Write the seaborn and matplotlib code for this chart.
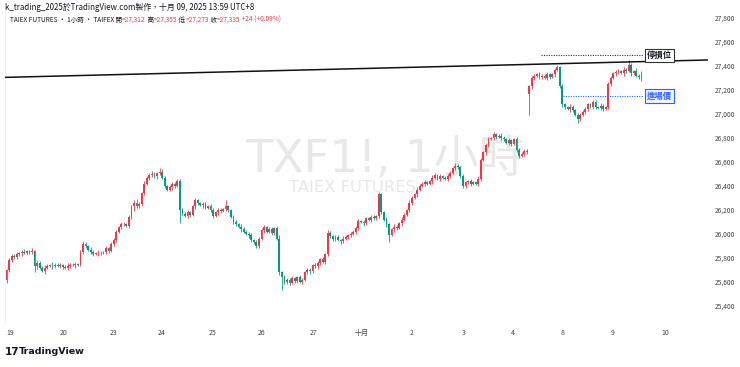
import matplotlib
matplotlib.use("Agg")
import matplotlib.pyplot as plt
import seaborn as sns

sns.set_theme(style="white")
plt.rcParams['font.family'] = ['Noto Sans CJK TC', 'DejaVu Sans']

# hourly closes, TXF1! from 9/19 to 10/9
closes = [
    25700, 25780, 25820, 25810, 25830, 25840, 25850, 25845, 25855, 25850, 25860,
    25730, 25760, 25720, 25690, 25720,
    25735, 25740, 25730, 25745, 25735, 25740, 25725, 25720, 25735, 25745, 25740, 25750, 25745,
    25850, 25920, 25900, 25870, 25850,
    25835, 25840, 25845, 25840, 25850, 25880,
    25860, 25920, 25950, 26020, 26060,
    26080, 26085, 26070, 26140, 26230,
    26260, 26230, 26250, 26340, 26420, 26470,
    26490, 26500, 26480, 26510, 26520,
    26470, 26400, 26370, 26390, 26420, 26400, 26440,
    26200, 26170, 26150, 26180, 26160,
    26230, 26280, 26260, 26240, 26250, 26220, 26230, 26200,
    26150, 26180, 26200, 26190, 26210, 26230, 26200,
    26140, 26100, 26080, 26060, 26040, 26020, 26000, 25990, 25950, 25930, 25900,
    25960, 26030, 26060, 26020, 26040, 26010, 26050, 25960,
    25680, 25640, 25600, 25620, 25590, 25630, 25610, 25640, 25600, 25620,
    25680, 25700, 25690, 25740, 25730, 25760, 25790, 25770, 25830, 26010,
    25980, 25960, 25975, 25950, 25940, 25960, 25975, 25990, 26000, 26020, 26050,
    26110, 26100, 26090, 26130, 26120, 26140, 26130, 26150,
    26330, 26180, 26120, 26080, 25990, 26040,
    26060, 26050, 26090, 26120, 26160, 26200, 26260, 26300,
    26330, 26370, 26400, 26420, 26430, 26420, 26440,
    26470, 26490, 26460, 26480, 26470, 26460, 26480,
    26510, 26550, 26570, 26560, 26480, 26400,
    26430, 26440, 26420, 26430, 26420, 26460,
    26620, 26680, 26740, 26790, 26800,
    26830, 26810, 26820, 26800, 26790, 26760, 26780, 26750, 26790,
    26700, 26650, 26670, 26690, 26680,
    27230, 27300, 27320, 27330, 27310, 27320, 27300, 27330, 27310, 27330,
    27370, 27390, 27230, 27080, 27060, 27040, 27060, 27030, 26990, 26960, 26990,
    27020, 27040, 27080, 27060, 27100, 27060, 27050, 27070, 27040, 27060,
    27250, 27300, 27340, 27350, 27360, 27340, 27370, 27360,
    27410, 27340, 27360, 27320, 27312, 27335,
]
first_open = 25620
gap_opens = {205: 27170}  # reopening after the holiday

upper_wick = [
    10, 20, 15, 10, 20, 10, 15, 25, 10, 15,
    20, 10, 20, 15, 10, 20, 15, 10, 25, 10,
    15, 20, 10, 15, 20, 10, 15, 20, 10, 15,
    20, 15, 10, 20, 15, 10, 20, 15, 10, 20,
    15, 10, 20, 15, 10, 20, 15, 10, 20, 15,
    20, 30, 15, 10, 20, 15, 20, 25, 15, 10,
    30, 20, 15, 10, 20, 15, 10, 20, 15, 20,
    15, 20, 10, 15, 20, 15, 10, 20, 15, 10,
    20, 15, 10, 20, 15, 10, 50, 15, 10, 20,
    15, 10, 20, 15, 10, 20, 15, 10, 20, 15,
    20, 15, 10, 20, 15, 10, 20, 30, 15, 20,
    15, 10, 20, 15, 10, 20, 15, 10, 20, 15,
    10, 20, 15, 10, 20, 15, 20, 15, 10, 20,
    15, 10, 20, 15, 10, 20, 15, 20, 15, 10,
    20, 15, 10, 20, 15, 10, 20, 15, 10, 20,
    15, 10, 20, 15, 10, 20, 15, 10, 20, 15,
    10, 20, 15, 10, 20, 15, 10, 20, 15, 10,
    20, 15, 10, 20, 15, 10, 20, 15, 10, 20,
    15, 10, 20, 15, 10, 20, 15, 10, 20, 15,
    10, 20, 15, 10, 20, 15, 10, 20, 15, 10,
    20, 15, 10, 20, 15, 10, 20, 15, 10, 20,
    15, 10, 20, 15, 10, 15, 15, 10, 20, 15,
    10, 20, 15, 10, 20, 15, 10, 20, 15, 10,
    20, 15, 10, 20, 15, 10, 20, 15, 10, 20,
    15, 10, 20, 15, 40, 15, 10, 20, 15, 20,
]
lower_wick = [
    30, 15, 10, 20, 15, 10, 20, 15, 10, 20,
    15, 50, 20, 15, 10, 20, 15, 10, 20, 15,
    10, 20, 15, 10, 20, 15, 10, 20, 15, 10,
    20, 15, 10, 20, 15, 10, 20, 15, 10, 20,
    15, 10, 20, 15, 10, 20, 15, 10, 20, 15,
    40, 15, 10, 20, 15, 10, 20, 15, 10, 20,
    15, 10, 20, 15, 10, 20, 15, 10, 110, 15,
    10, 20, 15, 10, 20, 15, 10, 20, 15, 10,
    20, 15, 10, 20, 15, 10, 20, 15, 10, 20,
    15, 10, 20, 15, 10, 20, 15, 10, 20, 15,
    10, 20, 15, 10, 20, 15, 10, 20, 110, 15,
    20, 15, 10, 20, 15, 10, 20, 15, 10, 20,
    15, 10, 20, 15, 10, 20, 15, 10, 20, 15,
    10, 20, 15, 10, 20, 15, 10, 20, 15, 10,
    20, 15, 10, 20, 15, 10, 20, 15, 10, 20,
    55, 10, 20, 15, 10, 20, 15, 10, 20, 15,
    10, 20, 15, 10, 20, 15, 10, 20, 15, 10,
    20, 15, 10, 20, 15, 10, 20, 15, 10, 20,
    15, 10, 20, 15, 10, 20, 15, 10, 20, 15,
    10, 20, 15, 10, 20, 15, 10, 20, 15, 10,
    20, 15, 10, 20, 15, 180, 20, 15, 10, 20,
    15, 10, 20, 15, 10, 20, 15, 10, 20, 15,
    10, 20, 15, 10, 35, 15, 10, 20, 15, 10,
    20, 15, 10, 20, 15, 10, 20, 15, 10, 20,
    15, 10, 20, 15, 10, 20, 15, 10, 20, 39,
]

# date labels and the bar where each day starts
day_labels = ['19', '20', '23', '24', '25', '26', '27', '十月', '2', '3', '4', '8', '9', '10']
day_bars = [1.4, 22.2, 41.8, 61, 81, 100.2, 120.6, 139.4, 159, 179.4, 198.6, 218.2, 237.8, 258.2]
price_ticks = [25400, 25600, 25800, 26000, 26200, 26400, 26600, 26800, 27000, 27200, 27400, 27600, 27800]

# drawings
trend_x = [-0.6, 275.1]
trend_y = [27305, 27450]
stop_price = 27490
stop_from = 209.6
entry_price = 27150
entry_from = 218.2
levels_to = 249.6
tag_x = 256

# header values of the last bar
last_ohlc = [('開', '27,312'), ('高', '27,355'), ('低', '27,273'), ('收', '27,335')]
last_change = '+24 (+0.09%)'

UP = '#F23645'
DOWN = '#089981'
INK = '#131722'

opens = [first_open] + closes[:-1]
for k, v in gap_opens.items():
    opens[k] = v
highs = [max(o, c) + w for o, c, w in zip(opens, closes, upper_wick)]
lows = [min(o, c) - w for o, c, w in zip(opens, closes, lower_wick)]
xs = list(range(len(closes)))
colors = [UP if c >= o else DOWN for o, c in zip(opens, closes)]

fig = plt.figure(figsize=(7.4, 3.67), dpi=100)
fig.patch.set_facecolor('white')
ax = fig.add_axes([5 / 740, 1 - 322 / 367, 703 / 740, 314 / 367])
ax.set_facecolor('white')

# watermark
ax.text(0.54, 0.516, 'TXF1!, 1小時', transform=ax.transAxes, ha='center', va='center',
        fontsize=32.5, color='#e8e8e8', zorder=0, family=['DejaVu Sans', 'Noto Sans CJK TC'])
ax.text(0.494, 0.427, 'TAIEX FUTURES', transform=ax.transAxes, ha='center', va='center',
        fontsize=11.8, color='#e8e8e8', zorder=0, family=['DejaVu Sans'])

ax.vlines(xs, lows, highs, colors=colors, linewidth=0.6, zorder=2)
ax.bar(xs, [max(abs(c - o), 4) for o, c in zip(opens, closes)],
       bottom=[min(o, c) for o, c in zip(opens, closes)],
       width=0.72, color=colors, linewidth=0, zorder=3)

ax.plot(trend_x, trend_y, color='#111111', linewidth=1.1, zorder=4)
ax.hlines(stop_price, stop_from, levels_to, colors='#333333', linestyles=(0, (1, 1.2)),
          linewidth=0.8, zorder=4)
ax.hlines(entry_price, entry_from, levels_to, colors='#2962FF', linestyles=(0, (1, 1.2)),
          linewidth=0.8, zorder=4)
ax.text(tag_x, stop_price, '停損位', ha='center', va='center', fontsize=6, color=INK,
        fontweight='bold', zorder=5,
        bbox=dict(boxstyle='square,pad=0.25', fc='white', ec='#333333', lw=0.8))
ax.text(tag_x, entry_price, '進場價', ha='center', va='center', fontsize=6, color='#2962FF',
        fontweight='bold', zorder=5,
        bbox=dict(boxstyle='square,pad=0.25', fc='#f0f4ff', ec='#2962FF', lw=0.8))

ax.set_xlim(-0.6, 275.1)
ax.set_ylim(25267, 27883)
ax.set_xticks(day_bars)
ax.set_xticklabels(day_labels)
ax.yaxis.tick_right()
ax.set_yticks(price_ticks)
ax.set_yticklabels([f'{p:,}' for p in price_ticks])
ax.tick_params(axis='y', length=0, pad=5, labelsize=4.8, labelcolor='#444444')
ax.tick_params(axis='x', length=0, pad=5, labelsize=5, labelcolor='#444444')
for side in ['top', 'right', 'bottom']:
    ax.spines[side].set_visible(False)
ax.spines['left'].set_color('#eeeeee')
ax.spines['left'].set_linewidth(0.6)
ax.grid(False)

# header
fig.text(5 / 740, 1 - 7 / 367, 'k_trading_2025於TradingView.com製作，十月 09, 2025 13:59 UTC+8',
         fontsize=5.7, color=INK, va='center')
parts = [('TAIEX FUTURES · 1小時 · TAIFEX', INK)]
for name, val in last_ohlc:
    parts.append((' ' + name, INK))
    parts.append(('=' + val, UP))
parts.append((' ' + last_change, UP))

prev = fig.text(10 / 740, 1 - 24 / 367, parts[0][0], fontsize=4.7, color=parts[0][1],
                va='bottom')
for txt, col in parts[1:]:
    prev = ax.annotate(txt, xy=(1, 0), xycoords=prev, va='bottom', ha='left',
                       fontsize=4.7, color=col, annotation_clip=False)

# footer logo
fig.text(5 / 740, 1 - 352 / 367, '17', fontsize=7.5, fontweight='heavy', color=INK,
         va='center', family=['DejaVu Sans'])
fig.text(19 / 740, 1 - 352 / 367, 'TradingView', fontsize=6.8, fontweight='bold',
         color=INK, va='center', family=['DejaVu Sans'])

fig.savefig('out.png', dpi=100, facecolor='white')
